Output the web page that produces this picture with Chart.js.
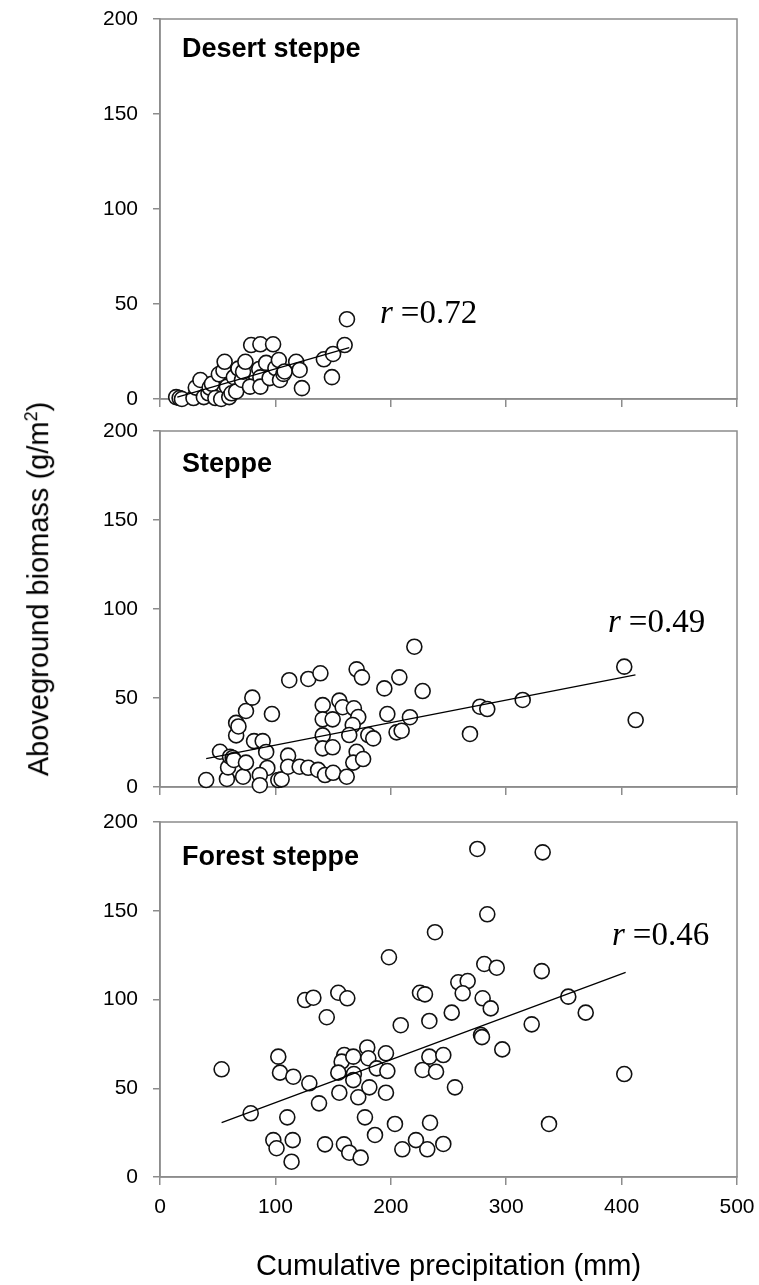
<!DOCTYPE html>
<html>
<head>
<meta charset="utf-8">
<script src="https://cdn.jsdelivr.net/npm/chart.js@4.4.0/dist/chart.umd.min.js"></script>
<style>
  html, body { margin: 0; padding: 0; background: #fff; }
  #wrap { position: relative; width: 759px; height: 1285px; overflow: hidden; }
  #wrap canvas { position: absolute; left: 0; }
  #ytitle {
    position: absolute; left: 38px; top: 589px;
    transform: translate(-50%, -50%) rotate(-90deg);
    font: 29px "Liberation Sans", Arial, sans-serif;
    white-space: nowrap; color: #000;
  }
  #ytitle sup { font-size: 18px; }
</style>
</head>
<body>
<div id="wrap">
  <canvas id="desert" width="759" height="411" style="top:0px"></canvas>
  <canvas id="steppe" width="759" height="388" style="top:411px"></canvas>
  <canvas id="forest" width="759" height="486" style="top:799px"></canvas>
  <div id="ytitle">Aboveground biomass (g/m<sup>2</sup>)</div>
</div>
<script>
// axis ticks
const xTicks = [0, 100, 200, 300, 400, 500];
const yTicks = [0, 50, 100, 150, 200];

// Desert steppe
const desertPrecip = [14, 17, 19, 29, 31, 35, 38, 42, 43, 45, 48, 51, 53, 55, 56, 58, 60, 62, 64, 66, 68, 71, 72, 74, 78, 79,
  86, 87, 87, 87, 92, 95, 98, 100, 103, 104, 107, 108, 118, 121, 123, 142, 149, 150, 160, 162];
const desertBiomass = [1, 0.5, 0, 0.5, 6, 10, 1, 3, 6, 8, 0.5, 13, 0, 15, 19.6, 6.5, 1, 3, 11.5, 4, 16, 10, 14.4, 19.6, 6.5, 28.4,
  15.8, 11.4, 6.5, 28.8, 19, 11, 28.8, 16.3, 20.5, 10, 13.2, 14.5, 19.6, 15.3, 5.7, 20.9, 11.5, 23.7, 28.4, 42];
const desertFitX = [15, 164];
const desertFitY = [1, 27];

// Steppe
const steppePrecip = [40, 52, 58, 59, 60.7, 63, 64, 66, 66, 68, 72, 74.5, 74.5, 80, 81.5, 89, 92, 93, 86.5, 86.5, 97, 102.5,
  105.4, 111, 111, 112, 121, 128.5, 128.5, 139, 137, 143, 150, 161.8, 141, 141, 149.6, 141, 141, 149.6, 155.4, 158.3, 168,
  171.8, 167, 164, 170.4, 167.5, 176, 170.4, 175, 180.5, 184.8, 194.4, 197, 205, 209.4, 207.4, 216.6, 220.4, 227.6, 277.3,
  283.6, 268.6, 314.3, 402.3, 412.2];
const steppeBiomass = [3.9, 19.8, 4.5, 11, 17, 16.3, 15.2, 29, 36, 34, 5.8, 13.7, 42.7, 50.2, 25.8, 25.8, 19.7, 10.7, 6.7, 1, 41, 3.9,
  4.3, 17.6, 11.4, 60, 11.4, 10.8, 60.7, 63.9, 9.6, 6.7, 8, 5.8, 46, 38, 38, 29, 21.7, 22.3, 48.5, 44.8, 44.2,
  39.3, 34.8, 29.2, 19.8, 13.7, 15.7, 66.1, 61.6, 29.2, 27.3, 55.4, 41, 30.7, 31.6, 61.6, 39.2, 78.8, 53.9, 45.1,
  43.8, 29.8, 48.9, 67.6, 37.6];
const steppeFitX = [40, 412];
const steppeFitY = [16, 63];

// Forest steppe
const forestPrecip = [53.4, 78.6, 102.5, 104, 115.5, 110.3, 98.2, 101, 115, 114, 129.4, 137.8, 143, 125.7, 132.9, 144.5, 154.5,
  162.3, 159.7, 157.4, 154.5, 155.4, 167.5, 168, 167.5, 171.8, 179.6, 180.5, 187.8, 181.4, 177.6, 186.3, 159.4, 164, 173.9,
  195.8, 197, 195.8, 198.4, 208.6, 203.6, 210, 221.8, 231.6, 234, 233.4, 225.3, 229.6, 238.3, 227.6, 239.2, 233.4, 245.5,
  245.5, 275, 331.6, 283.6, 281, 291.8, 330.8, 258.5, 266.6, 262.3, 279.6, 286.6, 252.8, 353.8, 368.9, 322.1, 278.2, 279,
  296.6, 255.6, 402.3, 337.1];
const forestBiomass = [60.7, 35.9, 67.8, 58.8, 56.5, 33.6, 20.8, 16.2, 20.8, 8.6, 52.8, 41.5, 18.4, 99.7, 101, 90, 103.8,
  100.7, 68.7, 65, 58.8, 47.5, 67.8, 58, 54.6, 44.9, 73, 66.9, 61.2, 50.5, 33.6, 23.7, 18.4, 13.7, 10.9,
  69.7, 59.7, 47.5, 123.8, 85.5, 29.9, 15.6, 20.8, 15.6, 30.6, 87.9, 103.8, 102.9, 137.9, 60.3, 59.3, 67.8, 68.7,
  18.6, 184.8, 182.9, 148, 120, 117.9, 116, 109.7, 110.4, 103.5, 100.7, 95, 92.6, 101.6, 92.6, 86, 80, 78.8,
  71.9, 50.5, 58, 29.9];
const forestFitX = [53.4, 403.5];
const forestFitY = [30.6, 115.3];

const sans = '"Liberation Sans", Arial, sans-serif';
const serif = '"Liberation Serif", "Times New Roman", serif';
const axisGray = '#8c8c8c';

// frame round the plot area + panel name + r value
const panelText = {
  id: 'panelText',
  beforeDatasetsDraw(chart) {
    const { ctx, chartArea: a } = chart;
    ctx.save();
    ctx.strokeStyle = axisGray;
    ctx.lineWidth = 1.5;
    ctx.strokeRect(a.left, a.top, a.right - a.left, a.bottom - a.top);
    ctx.restore();
  },
  afterDraw(chart, args, o) {
    const { ctx, chartArea: a } = chart;
    ctx.save();
    ctx.fillStyle = '#000';
    ctx.textBaseline = 'alphabetic';
    ctx.font = 'bold 27px ' + sans;
    ctx.fillText(o.name, a.left + 22, a.top + o.nameDy);
    const rx = a.left + o.rDx, ry = a.top + o.rDy;
    ctx.font = 'italic 33px ' + serif;
    ctx.fillText('r', rx, ry);
    const w = ctx.measureText('r').width;
    ctx.font = '33px ' + serif;
    ctx.fillText('=' + o.r, rx + w + 8, ry);
    ctx.restore();
  }
};

function drawPanel(id, precip, biomass, fitX, fitY, o) {
  const pts = precip.map((x, i) => ({ x: x, y: biomass[i] }));
  const fit = fitX.map((x, i) => ({ x: x, y: fitY[i] }));

  new Chart(document.getElementById(id), {
    type: 'scatter',
    data: {
      datasets: [
        {
          data: fit, showLine: true, borderColor: '#000', borderWidth: 1.3,
          pointRadius: 0, order: 0, clip: false
        },
        {
          data: pts, pointStyle: 'circle', pointRadius: 7.5, pointBorderWidth: 1.6,
          borderColor: '#111', backgroundColor: '#fff', order: 1, clip: false
        }
      ]
    },
    options: {
      responsive: false,
      animation: false,
      events: [],
      layout: { padding: { top: o.padTop, right: 22, left: 0, bottom: 0 } },
      plugins: {
        legend: { display: false },
        tooltip: { enabled: false },
        panelText: o
      },
      scales: {
        x: {
          type: 'linear', min: 0, max: 500,
          afterBuildTicks: s => { s.ticks = xTicks.map(v => ({ value: v })); },
          afterFit: s => { s.height = o.xHeight; s.paddingLeft = 0; s.paddingRight = 0; },
          grid: { drawOnChartArea: false, drawTicks: true, tickLength: 8, color: axisGray, lineWidth: 1.5 },
          border: { color: axisGray, width: 1.5 },
          ticks: { display: o.showX, font: { family: sans, size: 21 }, color: '#000', padding: 10, maxRotation: 0 },
          title: {
            display: o.showX, text: 'Cumulative precipitation (mm)',
            font: { family: sans, size: 29 }, color: '#000', padding: { top: 4, bottom: 1 }
          }
        },
        y: {
          min: 0, max: 200,
          afterBuildTicks: s => { s.ticks = yTicks.map(v => ({ value: v })); },
          afterFit: s => { s.width = 160; s.paddingTop = 0; s.paddingBottom = 0; },
          grid: { drawOnChartArea: false, drawTicks: true, tickLength: 7, color: axisGray, lineWidth: 1.5 },
          border: { color: axisGray, width: 1.5 },
          ticks: { font: { family: sans, size: 21 }, color: '#000', padding: 15 }
        }
      }
    },
    plugins: [panelText]
  });
}

drawPanel('desert', desertPrecip, desertBiomass, desertFitX, desertFitY,
  { name: 'Desert steppe', r: '0.72', nameDy: 38, rDx: 220, rDy: 304, padTop: 19, xHeight: 12, showX: false });
drawPanel('steppe', steppePrecip, steppeBiomass, steppeFitX, steppeFitY,
  { name: 'Steppe', r: '0.49', nameDy: 41, rDx: 448, rDy: 201, padTop: 20, xHeight: 12, showX: false });
drawPanel('forest', forestPrecip, forestBiomass, forestFitX, forestFitY,
  { name: 'Forest steppe', r: '0.46', nameDy: 43, rDx: 452, rDy: 123, padTop: 23, xHeight: 108, showX: true });
</script>
</body>
</html>
